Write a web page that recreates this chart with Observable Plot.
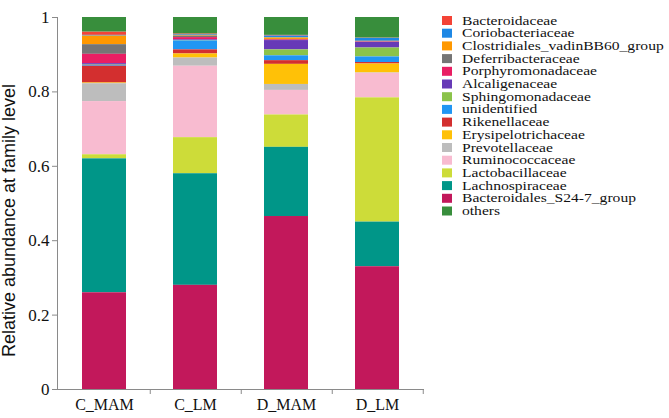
<!DOCTYPE html>
<html>
<head>
<meta charset="utf-8">
<script src="https://cdn.jsdelivr.net/npm/d3@7"></script>
<script src="https://cdn.jsdelivr.net/npm/@observablehq/plot@0.6"></script>
<style>
  html, body { margin: 0; padding: 0; background: #fff; }
  #wrap { position: relative; width: 669px; height: 418px; overflow: hidden; }
  #chart { position: absolute; left: 0; top: 0; }
  #legend { position: absolute; left: 438px; top: 9px; }
</style>
</head>
<body>
<div id="wrap"><div id="chart"></div><div id="legend"></div></div>
<script>
// Legend order (top to bottom)
const families = ["Bacteroidaceae", "Coriobacteriaceae", "Clostridiales_vadinBB60_group", "Deferribacteraceae",
  "Porphyromonadaceae", "Alcaligenaceae", "Sphingomonadaceae", "unidentified", "Rikenellaceae",
  "Erysipelotrichaceae", "Prevotellaceae", "Ruminococcaceae", "Lactobacillaceae", "Lachnospiraceae",
  "Bacteroidales_S24-7_group", "others"];
const colors = ["#F44336", "#1E88E5", "#FF9800", "#757575", "#E91E63", "#673AB7", "#8BC34A", "#2196F3",
  "#D32F2F", "#FFC107", "#BDBDBD", "#F8BBD0", "#CDDC39", "#009688", "#C2185B", "#388E3C"];
// Stacking order bottom -> top
const stackOrder = ["Bacteroidales_S24-7_group", "Lachnospiraceae", "Lactobacillaceae", "Ruminococcaceae",
  "Prevotellaceae", "Erysipelotrichaceae", "Rikenellaceae", "unidentified", "Sphingomonadaceae",
  "Alcaligenaceae", "Porphyromonadaceae", "Deferribacteraceae", "Clostridiales_vadinBB60_group",
  "Coriobacteriaceae", "Bacteroidaceae", "others"];
const samples = ["C_MAM", "C_LM", "D_MAM", "D_LM"];
// Values per sample, in legend (families) order
const C_MAM = [0.009, 0.002, 0.023, 0.026, 0.025, 0.004, 0.001, 0.002, 0.045, 0.002, 0.048, 0.143, 0.011, 0.360, 0.260, 0.039];
const C_LM  = [0.002, 0.002, 0.002, 0.004, 0.006, 0.002, 0.001, 0.024, 0.011, 0.011, 0.022, 0.192, 0.097, 0.300, 0.280, 0.044];
const D_MAM = [0.002, 0.005, 0.004, 0.001, 0.002, 0.025, 0.016, 0.013, 0.010, 0.054, 0.016, 0.066, 0.087, 0.186, 0.465, 0.048];
const D_LM  = [0.001, 0.008, 0.001, 0.001, 0.001, 0.015, 0.024, 0.015, 0.004, 0.024, 0.001, 0.066, 0.334, 0.120, 0.330, 0.055];
const yTicks = [0, 0.2, 0.4, 0.6, 0.8, 1];
const yLabel = "Relative abundance at family level";

const valuesBySample = {C_MAM, C_LM, D_MAM, D_LM};
const table = [];
for (const s of samples) {
  families.forEach((f, i) => table.push({sample: s, family: f, value: valuesBySample[s][i]}));
}

const W = 440, H = 418, mL = 57, mR = 17, mT = 17, mB = 29;
const halfStep = (W - mL - mR) / samples.length / 2;
const serif = "'Liberation Serif', 'Times New Roman', serif";
const axisColor = "#8a8a8a";

const chart = Plot.plot({
  width: W, height: H,
  marginLeft: mL, marginRight: mR, marginTop: mT, marginBottom: mB,
  style: {fontFamily: serif, background: "#fff"},
  x: {domain: samples, paddingInner: 0.52, paddingOuter: 0.26},
  y: {domain: [0, 1]},
  color: {domain: families, range: colors},
  marks: [
    Plot.barY(table, {
      x: "sample", y: "value", fill: "family",
      order: stackOrder
    }),
    Plot.frame({anchor: "left", stroke: axisColor}),
    Plot.frame({anchor: "bottom", stroke: axisColor}),
    Plot.ruleX(samples, {x: d => d, y1: 0, y2: 0, dx: halfStep, insetBottom: -5, stroke: axisColor}),
    Plot.axisX({tickSize: 0, tickPadding: 9, fontSize: 16, label: null, fill: "#111"}),
    Plot.axisY({ticks: yTicks, tickSize: 5, tickPadding: 3, fontSize: 17, stroke: axisColor,
      tickFormat: d => String(+d.toFixed(1)), label: null, fill: "#111"}),
    Plot.text([yLabel], {
      frameAnchor: "left", rotate: -90, dx: -48, dy: 17,
      fontFamily: "'Liberation Sans', Arial, sans-serif", fontSize: 18, fill: "#111",
      textAnchor: "middle", lineAnchor: "middle"
    })
  ]
});
document.getElementById("chart").appendChild(chart);

// Legend
const rowH = 12.7;
const textScale = 1.2;
const lg = d3.create("svg").attr("width", 231).attr("height", 220);
const rows = lg.selectAll("g").data(families).join("g")
  .attr("transform", (d, i) => `translate(0, ${i * rowH})`);
rows.append("rect").attr("x", 4).attr("y", 7).attr("width", 10).attr("height", 9)
  .attr("fill", (d, i) => colors[i]);
rows.append("text")
  .attr("transform", `translate(24, 15.5) scale(${textScale}, 1)`)
  .attr("font-family", serif).attr("font-size", 13).attr("fill", "#111")
  .text(d => d);
document.getElementById("legend").appendChild(lg.node());
</script>
</body>
</html>
